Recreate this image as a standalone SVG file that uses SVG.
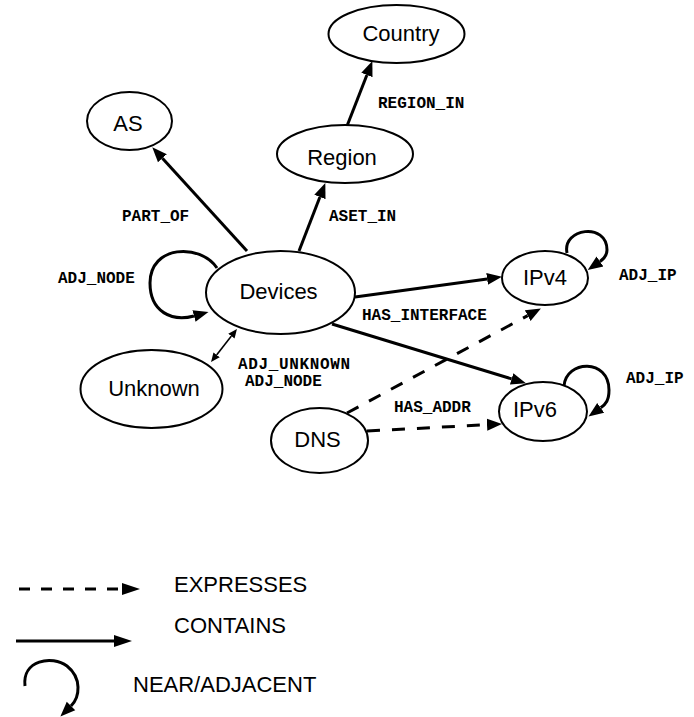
<svg xmlns="http://www.w3.org/2000/svg" width="694" height="717" viewBox="0 0 694 717">
<style>
.node ellipse{fill:#fff;stroke:#000;stroke-width:2}
.node text{font-family:"Liberation Sans",Arial,sans-serif;font-size:22px;text-anchor:middle;fill:#000}
.edge{fill:none;stroke:#000;stroke-width:3}
.dash{stroke-dasharray:13 12}
.thin{fill:none;stroke:#000;stroke-width:1.6}
.lbl{font-family:"Liberation Mono","Courier New",monospace;font-size:16px;font-weight:bold;fill:#000}
.leg{font-family:"Liberation Sans",Arial,sans-serif;font-size:22px;fill:#000}
</style>
<defs>
<marker id="ah" markerUnits="userSpaceOnUse" markerWidth="16" markerHeight="14" refX="0" refY="6" orient="auto" viewBox="0 0 16 12">
<path d="M0,0 L15,6 L0,12 Z" fill="#000"/>
</marker>
<marker id="ahs" markerUnits="userSpaceOnUse" markerWidth="10" markerHeight="9" refX="0" refY="4" orient="auto-start-reverse" viewBox="0 0 10 8">
<path d="M0,0 L9,4 L0,8 Z" fill="#000"/>
</marker>
<marker id="ahl" markerUnits="userSpaceOnUse" markerWidth="19" markerHeight="13" refX="0" refY="6" orient="auto" viewBox="0 0 19 12">
<path d="M0,0 L18,6 L0,12 Z" fill="#000"/>
</marker>
</defs>
<rect width="694" height="717" fill="#fff"/>
<g id="connectors">
<path class="edge" d="M247,251 L162.4,158.3" marker-end="url(#ah)"/>
<path class="edge" d="M299,251 L319.9,197" marker-end="url(#ah)"/>
<path class="edge" d="M347,126 L366.9,75" marker-end="url(#ah)"/>
<path class="edge" d="M355,297 L487.1,278.9" marker-end="url(#ah)"/>
<path class="edge" d="M332,324 L511.6,378.9" marker-end="url(#ah)"/>
<path class="edge dash" d="M347,413 L527.7,315.6" marker-end="url(#ah)"/>
<path class="edge dash" d="M367,431 L487,424.7" marker-end="url(#ah)"/>
<path class="thin" d="M216.6,354.9 L231.4,336.1" marker-start="url(#ahs)" marker-end="url(#ahs)"/>
<path class="edge" d="M217,268 C200,243 150,245 150,283 C150,312 172,322 194,316" marker-end="url(#ah)"/>
<path class="edge" d="M567,253 C562,228 607,222 607,250 C607,255 605,258 600,261.5" marker-end="url(#ah)"/>
<path class="edge" d="M564,386 C566,360 609,358 609,390 C609,400 606,404 600.7,407.8" marker-end="url(#ah)"/>
<text class="lbl" x="122" y="221">PART_OF</text>
<text class="lbl" x="329" y="221">ASET_IN</text>
<text class="lbl" x="378" y="108">REGION_IN</text>
<text class="lbl" x="58" y="283">ADJ_NODE</text>
<text class="lbl" x="238" y="369" textLength="112" lengthAdjust="spacing">ADJ_UNKNOWN</text>
<text class="lbl" x="245" y="386">ADJ_NODE</text>
<text class="lbl" x="362" y="320">HAS_INTERFACE</text>
<text class="lbl" x="619" y="280">ADJ_IP</text>
<text class="lbl" x="626" y="383">ADJ_IP</text>
<text class="lbl" x="394" y="412">HAS_ADDR</text>
</g>
<g id="node-country" class="node"><ellipse cx="396.5" cy="34" rx="68" ry="29"/><text x="401" y="41">Country</text></g>
<g id="node-region" class="node"><ellipse cx="345" cy="154" rx="68" ry="29"/><text x="342" y="165">Region</text></g>
<g id="node-as" class="node"><ellipse cx="129.5" cy="121" rx="42.5" ry="29"/><text x="128" y="131">AS</text></g>
<g id="node-devices" class="node"><ellipse cx="280.5" cy="292.5" rx="74.5" ry="41.5"/><text x="278.5" y="299">Devices</text></g>
<g id="node-unknown" class="node"><ellipse cx="151.5" cy="389" rx="71" ry="39"/><text x="154" y="396">Unknown</text></g>
<g id="node-dns" class="node"><ellipse cx="319.5" cy="440.5" rx="48.5" ry="32.5"/><text x="317.5" y="447">DNS</text></g>
<g id="node-ipv4" class="node"><ellipse cx="545" cy="278" rx="43" ry="27"/><text x="545" y="285">IPv4</text></g>
<g id="node-ipv6" class="node"><ellipse cx="543" cy="411.5" rx="44" ry="29.5"/><text x="535" y="417">IPv6</text></g>
<g id="legend">
<path class="edge" style="stroke-dasharray:11 11" d="M19,589 L122,589" marker-end="url(#ahl)"/>
<path class="edge" d="M16,641 L114,641" marker-end="url(#ahl)"/>
<path class="edge" d="M25,686 C22,660 52,655 67,666 C82,678 80,697 71,706" marker-end="url(#ah)"/>
<text class="leg" x="174" y="592">EXPRESSES</text>
<text class="leg" x="174" y="633">CONTAINS</text>
<text class="leg" x="133" y="692">NEAR/ADJACENT</text>
</g>
</svg>
